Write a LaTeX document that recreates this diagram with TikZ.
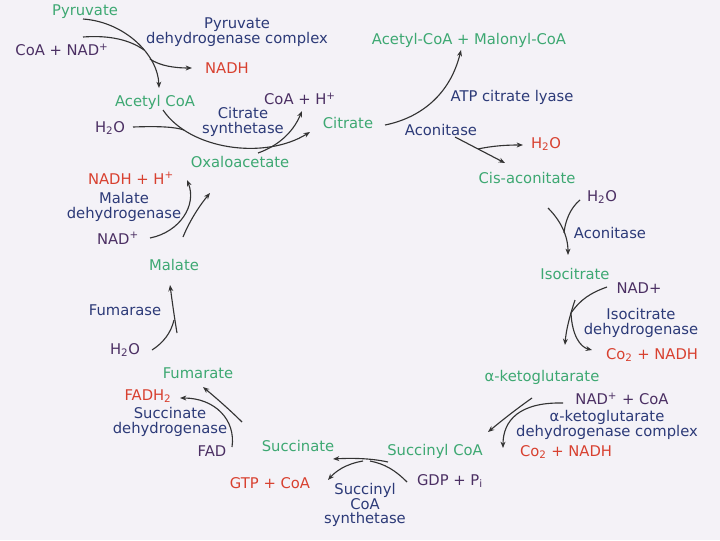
\documentclass[tikz,border=0pt]{standalone}
\usepackage{fontspec}
\setmainfont{DejaVu Sans}
\usetikzlibrary{arrows.meta}

\definecolor{bgcol}{HTML}{F4F2F7}
\definecolor{metabcol}{HTML}{3DA872}
\definecolor{enzcol}{HTML}{2C3A78}
\definecolor{cofcol}{HTML}{4B2F63}
\definecolor{prodcol}{HTML}{D8402F}

\tikzset{
  lbl/.style={inner sep=0.5pt, font=\fontsize{10.5}{10.5}\selectfont},
  met/.style={lbl, text=metabcol},
  enz/.style={lbl, text=enzcol, align=center},
  cof/.style={lbl, text=cofcol},
  relprod/.style={lbl, text=prodcol},
  rxn/.style={draw=black!80, line width=0.8pt},
  arr/.style={rxn, -{Stealth[length=4.5pt,width=3.5pt]}}
}

\begin{document}
\begin{tikzpicture}[x=0.025cm, y=-0.025cm]

    % --- Background ---
    \fill[bgcol] (0,0) rectangle (720,540);

    % --- Labels ---
    % Pyruvate to citrate
    \node[met] (pyr) at (85,12) {Pyruvate};
    \node[cof] (coanad) at (62,50) {CoA + NAD\textsuperscript{+}};
    \node[enz] (pdh) at (237,32) {Pyruvate\\dehydrogenase complex};
    \node[relprod] (nadha) at (227,68) {NADH};
    \node[met] (acoa) at (155,102) {Acetyl CoA};
    \node[cof] (coah) at (300,99) {CoA + H\textsuperscript{+}};
    \node[enz] (cs) at (243,122) {Citrate\\synthetase};
    \node[cof] (h2oa) at (110,128) {H\textsubscript{2}O};
    \node[met] (cit) at (348,123) {Citrate};
    \node[met] (oaa) at (240,162) {Oxaloacetate};

    % Citrate to alpha-ketoglutarate
    \node[met] (malco) at (469,40) {Acetyl-CoA + Malonyl-CoA};
    \node[enz] (acl) at (512,97) {ATP citrate lyase};
    \node[enz] (acoa1) at (441,130) {Aconitase};
    \node[relprod] (h2ob) at (546,144) {H\textsubscript{2}O};
    \node[met] (cisac) at (527,178) {Cis-aconitate};
    \node[cof] (h2oc) at (602,197) {H\textsubscript{2}O};
    \node[enz] (acoa2) at (610,233) {Aconitase};
    \node[met] (isocit) at (575,274) {Isocitrate};
    \node[cof] (nadb) at (639,288) {NAD+};
    \node[enz] (idh) at (641,323) {Isocitrate\\dehydrogenase};
    \node[relprod] (co2a) at (652,355) {Co\textsubscript{2} + NADH};
    \node[met] (akg) at (542,377) {α-ketoglutarate};

    % alpha-ketoglutarate to succinate
    \node[cof] (nadcoa) at (622,399) {NAD\textsuperscript{+} + CoA};
    \node[enz] (akgdh) at (607,425) {α-ketoglutarate\\dehydrogenase complex};
    \node[relprod] (co2b) at (566,452) {Co\textsubscript{2} + NADH};
    \node[met] (sucoa) at (435,451) {Succinyl CoA};
    \node[cof] (gdp) at (450,481) {GDP + P\textsubscript{i}};
    \node[met] (succ) at (298,446) {Succinate};
    \node[relprod] (gtp) at (270,483) {GTP + CoA};
    \node[enz] (scs) at (365,505) {Succinyl\\CoA\\synthetase};

    % Succinate to oxaloacetate
    \node[met] (fum) at (198,373) {Fumarate};
    \node[relprod] (fadh) at (148,396) {FADH\textsubscript{2}};
    \node[enz] (sdh) at (170,422) {Succinate\\dehydrogenase};
    \node[cof] (fad) at (212,451) {FAD};
    \node[cof] (h2od) at (125,350) {H\textsubscript{2}O};
    \node[enz] (fumase) at (125,310) {Fumarase};
    \node[met] (malate) at (174,265) {Malate};
    \node[cof] (nadc) at (118,238) {NAD\textsuperscript{+}};
    \node[enz] (mdh) at (124,207) {Malate\\dehydrogenase};
    \node[relprod] (nadhc) at (131,178) {NADH + H\textsuperscript{+}};

    % --- Coordinates ---
    % Ends of the reaction arrows
    \coordinate (pyr-s) at (83,19);      % leaves Pyruvate
    \coordinate (acoa-n) at (159,88);    % reaches Acetyl CoA
    \coordinate (coanad-e) at (83,37);
    \coordinate (pdh-in) at (144,50);
    \coordinate (pdh-out) at (150,59);
    \coordinate (nadha-w) at (192,68);

    \coordinate (acoa-s) at (163,110);
    \coordinate (cit-w) at (310,132);
    \coordinate (h2oa-e) at (133,127);
    \coordinate (cs-in) at (184,130);
    \coordinate (oaa-n) at (258,153);
    \coordinate (coah-s) at (302,111);

    \coordinate (cit-e) at (385,125);
    \coordinate (malco-s) at (461,50);
    \coordinate (acoa1-s) at (455,137);
    \coordinate (cisac-n) at (505,163);
    \coordinate (acoa1-out) at (478,149);
    \coordinate (h2ob-w) at (523,145);

    \coordinate (cisac-s) at (548,208);
    \coordinate (isocit-n) at (568,255);
    \coordinate (h2oc-w) at (580,200);
    \coordinate (acoa2-in) at (564,233);

    \coordinate (isocit-s) at (575,300);
    \coordinate (akg-n) at (565,345);
    \coordinate (nadb-w) at (607,287);
    \coordinate (idh-mid) at (571,313);
    \coordinate (co2a-w) at (592,350);

    \coordinate (akg-s) at (532,398);
    \coordinate (sucoa-ne) at (488,432);
    \coordinate (nadcoa-w) at (563,403);
    \coordinate (co2b-nw) at (503,448);

    \coordinate (sucoa-sw) at (388,462);
    \coordinate (succ-se) at (333,459);
    \coordinate (gdp-w) at (407,482);
    \coordinate (scs-in) at (370,461);
    \coordinate (scs-out) at (363,461);
    \coordinate (gtp-e) at (328,480);

    \coordinate (succ-nw) at (242,422);
    \coordinate (fum-se) at (203,387);
    \coordinate (fad-n) at (232,447);
    \coordinate (fadh-e) at (180,398);

    \coordinate (fum-n) at (177,333);
    \coordinate (malate-s) at (170,285);
    \coordinate (h2od-e) at (152,350);
    \coordinate (fumase-in) at (174,320);

    \coordinate (malate-n) at (183,237);
    \coordinate (oaa-sw) at (210,193);
    \coordinate (nadc-e) at (150,238);
    \coordinate (nadhc-e) at (187,180);

    % --- Reaction arrows ---
    % Pyruvate dehydrogenase complex
    \draw[arr] (pyr-s) .. controls (125,22) and (158,55) .. (acoa-n);
    \draw[rxn] (coanad-e) .. controls (110,35) and (130,40) .. (pdh-in);
    \draw[arr] (pdh-out) .. controls (160,66) and (175,68) .. (nadha-w);

    % Citrate synthetase
    \draw[arr] (acoa-s) .. controls (190,150) and (265,160) .. (cit-w);
    \draw[rxn] (h2oa-e) .. controls (160,126) and (175,127) .. (cs-in);
    \draw[arr] (oaa-n) .. controls (275,147) and (292,135) .. (coah-s);

    % ATP citrate lyase
    \draw[arr] (cit-e) .. controls (420,118) and (450,95) .. (malco-s);

    % Aconitase
    \draw[arr] (acoa1-s) -- (cisac-n);
    \draw[arr] (acoa1-out) .. controls (492,146) and (505,145) .. (h2ob-w);
    \draw[arr] (cisac-s) .. controls (560,220) and (568,235) .. (isocit-n);
    \draw[rxn] (h2oc-w) .. controls (570,208) and (565,222) .. (acoa2-in);

    % Isocitrate dehydrogenase
    \draw[arr] (isocit-s) .. controls (570,315) and (566,330) .. (akg-n);
    \draw[rxn] (nadb-w) .. controls (590,293) and (580,300) .. (idh-mid);
    \draw[arr] (idh-mid) .. controls (572,335) and (580,347) .. (co2a-w);

    % alpha-ketoglutarate dehydrogenase complex
    \draw[arr] (akg-s) .. controls (515,410) and (500,422) .. (sucoa-ne);
    \draw[arr] (nadcoa-w) .. controls (520,402) and (503,420) .. (co2b-nw);

    % Succinyl CoA synthetase
    \draw[arr] (sucoa-sw) .. controls (370,458) and (350,458) .. (succ-se);
    \draw[rxn] (gdp-w) .. controls (395,470) and (385,464) .. (scs-in);
    \draw[arr] (scs-out) .. controls (345,464) and (335,472) .. (gtp-e);

    % Succinate dehydrogenase
    \draw[arr] (succ-nw) .. controls (230,410) and (215,397) .. (fum-se);
    \draw[arr] (fad-n) .. controls (236,420) and (215,398) .. (fadh-e);

    % Fumarase
    \draw[arr] (fum-n) .. controls (174,315) and (172,300) .. (malate-s);
    \draw[rxn] (h2od-e) .. controls (163,343) and (171,333) .. (fumase-in);

    % Malate dehydrogenase
    \draw[arr] (malate-n) .. controls (190,220) and (200,205) .. (oaa-sw);
    \draw[arr] (nadc-e) .. controls (180,232) and (197,205) .. (nadhc-e);

\end{tikzpicture}
\end{document}
